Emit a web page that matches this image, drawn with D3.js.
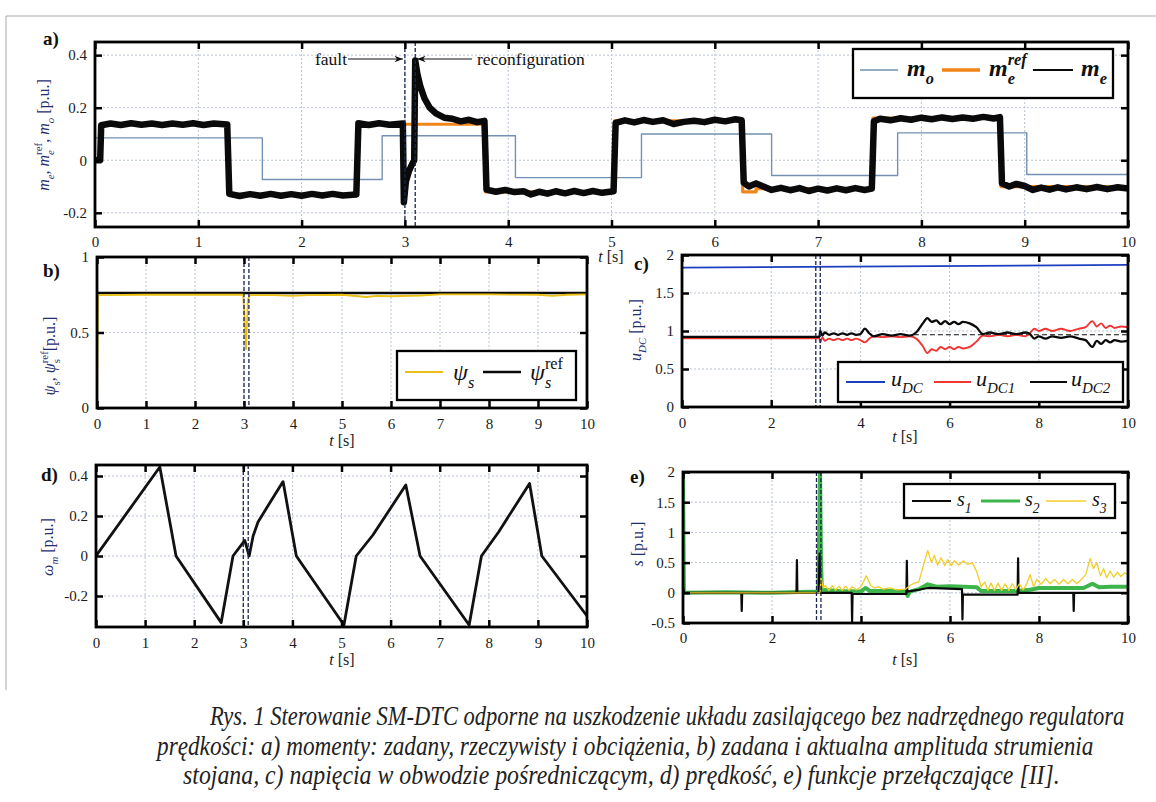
<!DOCTYPE html>
<html><head><meta charset="utf-8">
<script src="https://cdn.jsdelivr.net/npm/d3@7"></script>
<style>
body{margin:0;background:#fff}
svg{display:block}
text{font-family:"Liberation Serif","Times New Roman",serif;white-space:pre}
</style>
</head><body>
<svg id="fig" width="1156" height="802"></svg>
<script>
// ---------------- DATA ----------------
// panel a: torques
const moData   = [[0,0.085],[1.62,-0.073],[2.78,0.093],[4.07,-0.066],[5.29,0.1],[6.55,-0.058],[7.77,0.104],[9.02,-0.054],[10,-0.054]];
const meRefData= [[0,0],[0.05,0.137],[1.29,-0.13],[2.54,0.137],[3.78,-0.12],[5.03,0.15],[6.27,-0.12],[6.4,-0.108],[7.53,0.16],[8.77,-0.1],[10,-0.1]];
const meData   = [[0,0],[0.05,0],[0.06,0.133],[0.15,0.14],[0.25,0.134],[0.35,0.141],[0.45,0.135],[0.55,0.14],[0.65,0.134],[0.75,0.14],[0.85,0.135],[0.95,0.141],[1.05,0.134],[1.15,0.14],[1.28,0.136],
  [1.3,-0.128],[1.4,-0.136],[1.5,-0.129],[1.6,-0.135],[1.7,-0.128],[1.8,-0.135],[1.9,-0.129],[2.0,-0.135],[2.1,-0.128],[2.2,-0.134],[2.3,-0.128],[2.4,-0.134],[2.53,-0.13],
  [2.55,0.141],[2.65,0.134],[2.75,0.141],[2.85,0.135],[2.98,0.14],
  [2.99,-0.16],[3.01,-0.08],[3.04,-0.04],[3.07,-0.015],[3.09,0.0],[3.1,0.38],[3.12,0.33],[3.15,0.28],[3.19,0.235],[3.24,0.2],
  [3.3,0.178],[3.38,0.162],[3.46,0.158],[3.54,0.148],[3.62,0.154],[3.7,0.145],[3.77,0.15],
  [3.79,-0.112],[3.88,-0.12],[3.97,-0.113],[4.06,-0.121],[4.15,-0.118],[4.22,-0.13],[4.3,-0.12],[4.38,-0.127],[4.46,-0.118],[4.55,-0.126],[4.64,-0.117],[4.73,-0.125],[4.82,-0.117],[4.91,-0.124],[5.02,-0.118],
  [5.04,0.142],[5.13,0.152],[5.22,0.144],[5.31,0.153],[5.4,0.146],[5.5,0.152],[5.6,0.138],[5.7,0.146],[5.8,0.15],[5.9,0.145],[6.0,0.154],[6.1,0.148],[6.2,0.156],[6.26,0.152],
  [6.28,-0.085],[6.33,-0.1],[6.4,-0.088],[6.47,-0.1],[6.55,-0.113],[6.64,-0.105],[6.73,-0.114],[6.82,-0.106],[6.91,-0.117],[7.0,-0.108],[7.09,-0.115],[7.18,-0.107],[7.27,-0.114],[7.36,-0.106],[7.45,-0.113],[7.52,-0.108],
  [7.54,0.148],[7.6,0.158],[7.7,0.152],[7.8,0.16],[7.9,0.154],[8.0,0.162],[8.1,0.156],[8.2,0.163],[8.3,0.157],[8.4,0.163],[8.5,0.158],[8.6,0.165],[8.7,0.159],[8.76,0.164],
  [8.78,-0.088],[8.85,-0.1],[8.92,-0.09],[9.0,-0.098],[9.08,-0.113],[9.16,-0.104],[9.24,-0.112],[9.32,-0.103],[9.4,-0.111],[9.5,-0.103],[9.6,-0.11],[9.7,-0.102],[9.8,-0.11],[9.9,-0.103],[10,-0.108]];
// panel b: stator flux
const psiData    = [[0,0],[0.02,0.748],[1,0.75],[2,0.75],[2.98,0.75],[3.01,0.62],[3.04,0.39],[3.06,0.55],[3.08,0.72],[3.12,0.748],[3.6,0.747],[4,0.742],[4.3,0.748],[5,0.75],[5.5,0.735],[5.7,0.742],[6,0.74],[6.6,0.745],[7,0.752],[8,0.752],[9,0.75],[9.3,0.742],[9.6,0.75],[10,0.752]];
const psiRefData = [[0,0.762],[10,0.762]];
// panel c: DC-link voltages
const udcData  = [[0,1.835],[10,1.87]];
const udc1Data = [[0,0.905],[3.08,0.905],[3.1,0.85],[3.15,0.92],[3.2,0.87],[3.3,0.9],[3.4,0.88],[3.5,0.9],[3.6,0.88],[3.7,0.9],[3.8,0.88],[3.9,0.9],[4.0,0.88],[4.1,0.85],[4.2,0.9],[4.3,0.93],[4.5,0.92],[4.7,0.93],[4.9,0.92],[5.1,0.93],[5.25,0.9],[5.4,0.8],[5.5,0.71],[5.6,0.76],[5.7,0.74],[5.8,0.79],[5.9,0.76],[6.0,0.79],[6.1,0.76],[6.2,0.79],[6.3,0.77],[6.45,0.79],[6.6,0.86],[6.75,0.94],[6.9,0.93],[7.1,0.95],[7.3,0.93],[7.5,0.95],[7.7,0.93],[7.8,0.97],[7.9,1.03],[8.0,1.0],[8.15,1.03],[8.3,1.0],[8.5,1.03],[8.7,1.0],[8.9,1.03],[9.05,1.05],[9.2,1.13],[9.3,1.06],[9.4,1.1],[9.5,1.04],[9.6,1.07],[9.7,1.04],[9.85,1.06],[10,1.05]];
const udc2Data = [[0,0.922],[3.08,0.922],[3.1,1.0],[3.15,0.94],[3.2,0.98],[3.3,0.95],[3.4,0.97],[3.5,0.95],[3.6,0.97],[3.7,0.95],[3.8,0.97],[3.9,0.95],[4.0,0.96],[4.1,1.03],[4.2,0.97],[4.3,0.93],[4.5,0.96],[4.7,0.94],[4.9,0.96],[5.1,0.94],[5.25,0.98],[5.4,1.1],[5.5,1.17],[5.6,1.12],[5.7,1.14],[5.8,1.09],[5.9,1.13],[6.0,1.09],[6.1,1.12],[6.2,1.09],[6.3,1.12],[6.45,1.1],[6.6,1.05],[6.75,0.96],[6.9,0.98],[7.1,0.96],[7.3,0.98],[7.5,0.96],[7.7,0.98],[7.8,0.96],[7.9,0.9],[8.0,0.93],[8.15,0.9],[8.3,0.93],[8.5,0.91],[8.7,0.93],[8.9,0.9],[9.05,0.88],[9.2,0.79],[9.3,0.87],[9.4,0.83],[9.5,0.88],[9.6,0.85],[9.7,0.88],[9.85,0.86],[10,0.87]];
const udcHalfData = [[5.2,0.95],[10,0.95]];
// panel d: speed
const omegaData = [[0,0],[1.3,0.445],[1.63,0],[2.55,-0.333],[2.79,0],[3.03,0.078],[3.12,0],[3.2,0.1],[3.3,0.17],[3.5,0.25],[3.81,0.372],[4.08,0],[5.05,-0.345],[5.3,0],[5.64,0.105],[6.31,0.355],[6.6,0],[7.6,-0.345],[7.85,0],[8.2,0.12],[8.83,0.363],[9.08,0],[10,-0.3]];
// panel e: switching functions
const s1Data = [[0,0.1],[0.02,0],[1.31,0],[1.32,-0.3],[1.33,0],[2.55,0],[2.56,0.54],[2.57,0],[3.05,0],[3.07,0.65],[3.09,0],[3.79,0],[3.8,-0.47],[3.81,-0.02],[5.02,-0.02],[5.03,0.53],[5.04,0.02],[5.3,0.05],[5.5,0.08],[6.27,0.06],[6.28,-0.44],[6.29,-0.03],[7.52,-0.03],[7.53,0.57],[7.54,0.0],[8.77,0.0],[8.78,-0.3],[8.79,0.0],[10,0.0]];
const s2Data = [[0,2.0],[0.02,0.0],[1,0.01],[2,0.0],[3.04,0.02],[3.06,1.0],[3.08,2.0],[3.1,0.6],[3.12,0.05],[3.5,0.03],[4.0,0.02],[4.1,0.08],[4.2,0.03],[5.0,0.03],[5.05,-0.05],[5.1,0.02],[5.3,0.06],[5.5,0.14],[5.7,0.1],[6.0,0.11],[6.3,0.1],[6.6,0.09],[6.7,0.03],[7.5,0.03],[7.8,0.05],[8.0,0.08],[8.5,0.08],[9.0,0.08],[9.2,0.15],[9.35,0.09],[9.6,0.1],[10,0.1]];
const s3Data = [[0,0],[3.08,0],[3.1,0.25],[3.15,0.08],[3.2,0.12],[3.28,0.04],[3.35,0.12],[3.43,0.04],[3.5,0.11],[3.58,0.04],[3.65,0.11],[3.73,0.04],[3.8,0.1],[3.9,0.05],[4.0,0.1],[4.12,0.28],[4.22,0.12],[4.3,0.08],[4.4,0.1],[4.5,0.06],[4.65,0.08],[4.8,0.05],[5.0,0.06],[5.1,0.12],[5.2,0.16],[5.3,0.18],[5.4,0.45],[5.5,0.7],[5.58,0.5],[5.65,0.62],[5.72,0.46],[5.8,0.58],[5.88,0.45],[5.95,0.55],[6.03,0.45],[6.1,0.53],[6.2,0.46],[6.3,0.53],[6.4,0.47],[6.5,0.5],[6.6,0.35],[6.7,0.1],[6.78,0.18],[6.85,0.04],[6.92,0.16],[7.0,0.04],[7.08,0.16],[7.16,0.04],[7.24,0.15],[7.32,0.04],[7.4,0.15],[7.48,0.05],[7.56,0.15],[7.64,0.05],[7.72,0.14],[7.8,0.3],[7.88,0.1],[7.95,0.22],[8.05,0.14],[8.15,0.24],[8.25,0.15],[8.35,0.22],[8.45,0.14],[8.55,0.22],[8.65,0.15],[8.75,0.22],[8.85,0.15],[8.95,0.22],[9.05,0.3],[9.15,0.57],[9.22,0.4],[9.3,0.5],[9.38,0.28],[9.45,0.4],[9.52,0.25],[9.6,0.36],[9.68,0.26],[9.76,0.34],[9.84,0.27],[9.92,0.33],[10,0.3]];
// event markers (fault, reconfiguration)
const eventTimes = [3.0, 3.1];
// ticks
const ticksT1 = [0,1,2,3,4,5,6,7,8,9,10];
const ticksT2 = [0,2,4,6,8,10];
const ticksA = [-0.2,0,0.2,0.4];
const ticksB = [0,0.5,1];
const ticksC = [0,0.5,1,1.5,2];
const ticksD = [-0.2,0,0.2,0.4];
const ticksE = [-0.5,0,0.5,1,1.5,2];
const captionLines = [
  "Rys. 1 Sterowanie SM-DTC odporne na uszkodzenie układu zasilającego bez nadrzędnego regulatora",
  "prędkości: a) momenty: zadany, rzeczywisty i obciążenia, b) zadana i aktualna amplituda strumienia",
  "stojana, c) napięcia w obwodzie pośredniczącym, d) prędkość, e) funkcje przełączające [II]."
];

// ---------------- DRAWING ----------------
const svg = d3.select('#fig');
svg.append('rect').attr('width',1156).attr('height',802).attr('fill','#fff');
svg.append('line').attr('x1',6).attr('x2',1156).attr('y1',16).attr('y2',16).attr('stroke','#aaa').attr('stroke-width',1);
svg.append('line').attr('x1',6).attr('x2',6).attr('y1',16).attr('y2',690).attr('stroke','#aaa').attr('stroke-width',1);

const LABC = '#1d2f6f';
let clipId = 0;
function panel(c){
  const x = d3.scaleLinear().domain([0,10]).range([c.l,c.r]);
  const y = d3.scaleLinear().domain(c.yd).range([c.b,c.t]);
  const g = svg.append('g');
  g.selectAll(null).data(c.xt).join('line')
    .attr('x1',d=>x(d)).attr('x2',d=>x(d)).attr('y1',c.t).attr('y2',c.b)
    .attr('stroke','#b9c3d3').attr('stroke-width',1).attr('stroke-dasharray','2,2');
  g.selectAll(null).data(c.yt).join('line')
    .attr('y1',d=>y(d)).attr('y2',d=>y(d)).attr('x1',c.l).attr('x2',c.r)
    .attr('stroke','#b9c3d3').attr('stroke-width',1).attr('stroke-dasharray','2,2');
  const id = 'clip'+(clipId++);
  svg.append('clipPath').attr('id',id).append('rect').attr('x',c.l).attr('y',c.t).attr('width',c.r-c.l).attr('height',c.b-c.t);
  const data = svg.append('g').attr('clip-path',`url(#${id})`);
  return {x,y,g,data,c};
}
function finish(p, padX, padY){
  const {x,y,c} = p;
  const g = svg.append('g');
  const style = s => {
    s.select('.domain').remove();
    s.selectAll('.tick line').attr('stroke','#000').attr('stroke-width',2.5);
    s.selectAll('.tick text').attr('fill','#1a1a1a');
    s.attr('font-family','Liberation Serif, serif').attr('font-size',15);
  };
  g.append('g').attr('transform',`translate(0,${c.b})`)
    .call(d3.axisBottom(x).tickValues(c.xt).tickSize(-7).tickPadding(padX).tickFormat(d=>String(d))).call(style);
  g.append('g').attr('transform',`translate(0,${c.t})`)
    .call(d3.axisTop(x).tickValues(c.xt).tickSize(-7).tickFormat('')).call(style);
  g.append('g').attr('transform',`translate(${c.l},0)`)
    .call(d3.axisLeft(y).tickValues(c.yt).tickSize(-7).tickPadding(padY).tickFormat(d=>String(d))).call(style);
  g.append('g').attr('transform',`translate(${c.r},0)`)
    .call(d3.axisRight(y).tickValues(c.yt).tickSize(-7).tickFormat('')).call(style);
  g.append('rect').attr('x',c.l).attr('y',c.t).attr('width',c.r-c.l).attr('height',c.b-c.t)
    .attr('fill','none').attr('stroke','#000').attr('stroke-width',2.8);
}
function series(p, d, color, w, curve, dash){
  const line = d3.line().x(v=>p.x(v[0])).y(v=>p.y(v[1])).curve(curve||d3.curveLinear);
  const el = p.data.append('path').datum(d).attr('d',line).attr('fill','none')
    .attr('stroke',color).attr('stroke-width',w).attr('stroke-linejoin','round');
  if(dash) el.attr('stroke-dasharray',dash);
  return el;
}
function events(p){
  p.data.selectAll(null).data(eventTimes).join('line')
    .attr('x1',d=>p.x(d)).attr('x2',d=>p.x(d)).attr('y1',p.c.t).attr('y2',p.c.b)
    .attr('stroke','#1b2550').attr('stroke-width',1.3).attr('stroke-dasharray','4,2');
}
function mathText(parent, tokens, size, color){
  const g = parent.append('g');
  let cx = 0, subStart = 0;
  tokens.forEach(tk=>{
    let fs = size, dy = 0, xpos = cx;
    if(tk.sub){ fs = size*0.68; dy = size*0.33; subStart = cx; }
    if(tk.sup){ fs = size*0.68; dy = -size*0.45; if(tk.stack) xpos = subStart; }
    const t = g.append('text').attr('x',xpos).attr('y',dy).attr('font-size',fs)
      .attr('fill',color).attr('font-style',tk.it?'italic':'normal').text(tk.s.replace(/ /g,'\u00A0'));
    if(tk.bold) t.attr('font-weight','bold');
    const w = t.node().getComputedTextLength();
    if(tk.sup && tk.stack) cx = Math.max(cx, xpos+w); else cx = xpos + w;
  });
  return {g, width:cx};
}
function yLabel(tokens, cx, cy, size){
  const m = mathText(svg, tokens, size||16, LABC);
  m.g.attr('transform',`translate(${cx+5},${cy}) rotate(-90) translate(${-m.width/2},0)`);
}
function tLabel(cx, cy){
  const m = mathText(svg, [{s:'t',it:true},{s:' [s]'}], 16, '#1a1a1a');
  m.g.attr('transform',`translate(${cx-m.width/2},${cy})`);
}
function panelTag(s, x, y){
  svg.append('text').attr('x',x).attr('y',y).attr('font-size',19).attr('font-weight','bold').attr('fill','#111').text(s);
}
function legendBox(x,y,w,h){
  svg.append('rect').attr('x',x).attr('y',y).attr('width',w).attr('height',h)
    .attr('fill','#fff').attr('stroke','#000').attr('stroke-width',2.3);
}
function legLine(x1,x2,y,color,w){
  svg.append('line').attr('x1',x1).attr('x2',x2).attr('y1',y).attr('y2',y).attr('stroke',color).attr('stroke-width',w);
}
function legText(tokens, x, y, size){
  const m = mathText(svg, tokens, size, '#111');
  m.g.attr('transform',`translate(${x},${y})`);
}

// ---- Panel a ----
const pa = panel({l:95,r:1128,t:42,b:227,yd:[-0.254,0.45],xt:ticksT1,yt:ticksA});
series(pa, moData, '#7391b3', 1.4, d3.curveStepAfter);
series(pa, meRefData, '#f08519', 3.2, d3.curveStepAfter);
series(pa, meData, '#0a0a0a', 6.5);
events(pa);
finish(pa, 9, 8);
panelTag('a)', 43, 45);
yLabel([{s:'m',it:true},{s:'e',it:true,sub:true},{s:', '},{s:'m',it:true},{s:'e',it:true,sub:true},{s:'ref',sup:true,stack:true},{s:', '},{s:'m',it:true},{s:'o',it:true,sub:true},{s:' [p.u.]'}], 44, 135);
tLabel(611, 262);
svg.append('defs').html('<marker id="ah" viewBox="0 0 10 10" refX="10" refY="5" markerWidth="9" markerHeight="7" orient="auto-start-reverse"><path d="M0,1 L10,5 L0,9 L3,5 Z" fill="#111"/></marker>');
svg.append('line').attr('x1',348).attr('x2',pa.x(eventTimes[0])-2).attr('y1',59).attr('y2',59).attr('stroke','#111').attr('stroke-width',1.2).attr('marker-end','url(#ah)');
svg.append('text').attr('x',347).attr('y',65).attr('text-anchor','end').attr('font-size',17.5).attr('fill','#111').text('fault');
svg.append('line').attr('x1',472).attr('x2',pa.x(eventTimes[1])+2).attr('y1',59).attr('y2',59).attr('stroke','#111').attr('stroke-width',1.2).attr('marker-end','url(#ah)');
svg.append('text').attr('x',477).attr('y',65).attr('font-size',17.5).attr('fill','#111').text('reconfiguration');
legendBox(853,49,260,49);
legLine(860,898,70,'#7391b3',1.4);
legText([{s:'m',it:true,bold:true},{s:'o',it:true,sub:true,bold:true}], 907, 76, 24);
legLine(942,980,70,'#f08519',3.5);
legText([{s:'m',it:true,bold:true},{s:'e',it:true,sub:true,bold:true},{s:'ref',it:true,sup:true,stack:true,bold:true}], 989, 76, 24);
legLine(1033,1073,70,'#0a0a0a',2.2);
legText([{s:'m',it:true,bold:true},{s:'e',it:true,sub:true,bold:true}], 1081, 76, 24);

// ---- Panel b ----
const pb = panel({l:97,r:587,t:257,b:408,yd:[0,1],xt:ticksT1,yt:ticksB});
series(pb, psiRefData, '#0a0a0a', 2.6);
series(pb, psiData, '#e9bf16', 1.8);
events(pb);
finish(pb, 10, 8);
panelTag('b)', 43, 277);
yLabel([{s:'ψ',it:true},{s:'s',sub:true},{s:', '},{s:'ψ',it:true},{s:'s',sub:true},{s:'ref',sup:true,stack:true},{s:'[p.u.]'}], 50, 356);
tLabel(342, 446);
legendBox(397,351,179,49);
legLine(405,443,372,'#e9bf16',1.8);
legText([{s:'ψ',it:true},{s:'s',it:true,sub:true}], 453, 380, 24);
legLine(483,521,372,'#0a0a0a',2.4);
legText([{s:'ψ',it:true},{s:'s',it:true,sub:true},{s:'ref',sup:true,stack:true}], 530, 380, 24);

// ---- Panel c ----
const pc = panel({l:682,r:1128,t:255,b:407,yd:[0,2],xt:ticksT2,yt:ticksC});
series(pc, udcData, '#1c3fc0', 1.8);
series(pc, udcHalfData, '#111', 1.1, null, '5,3');
series(pc, udc1Data, '#f03535', 1.9, d3.curveMonotoneX);
series(pc, udc2Data, '#0a0a0a', 2.3, d3.curveMonotoneX);
events(pc);
finish(pc, 10, 8);
panelTag('c)', 634, 270);
yLabel([{s:'u',it:true},{s:'DC',it:true,sub:true},{s:' [p.u.]'}], 636, 330);
tLabel(905, 442);
legendBox(838,362,285,40);
legLine(846,885,382,'#1c3fc0',2);
legText([{s:'u',it:true},{s:'DC',it:true,sub:true}], 891, 386, 22);
legLine(934,971,382,'#f03535',2.2);
legText([{s:'u',it:true},{s:'DC1',it:true,sub:true}], 976, 386, 22);
legLine(1030,1067,382,'#0a0a0a',2.2);
legText([{s:'u',it:true},{s:'DC2',it:true,sub:true}], 1071, 386, 22);

// ---- Panel d ----
const pd = panel({l:96,r:587,t:465,b:627,yd:[-0.355,0.455],xt:ticksT1,yt:ticksD});
series(pd, omegaData, '#111', 2.8);
events(pd);
finish(pd, 10, 8);
panelTag('d)', 41, 481);
yLabel([{s:'ω',it:true},{s:'m',it:true,sub:true},{s:' [p.u.]'}], 48, 547);
tLabel(342, 665);

// ---- Panel e ----
const pe = panel({l:683,r:1128,t:472,b:623,yd:[-0.5,2],xt:ticksT2,yt:ticksE});
series(pe, s2Data, '#3cb54a', 4);
series(pe, s1Data, '#0a0a0a', 2.2);
series(pe, s3Data, '#f0cf2a', 1.3);
events(pe);
finish(pe, 9, 8);
panelTag('e)', 630, 483);
yLabel([{s:'s',it:true},{s:' [p.u.]'}], 638, 544);
tLabel(905, 665);
legendBox(904,484,211,34);
legLine(912,951,501,'#0a0a0a',2.2);
legText([{s:'s',it:true},{s:'1',it:true,sub:true}], 957, 506, 20);
legLine(981,1020,501,'#3cb54a',3);
legText([{s:'s',it:true},{s:'2',it:true,sub:true}], 1025, 506, 20);
legLine(1046,1086,501,'#f0cf2a',1.5);
legText([{s:'s',it:true},{s:'3',it:true,sub:true}], 1092, 506, 20);

// ---- caption (condensed italic serif: fit natural width, then stretch vertically) ----
const capX = [[210,1125],[157,1094],[183,1060]];
const capY = [725, 755, 784];
captionLines.forEach((s,i)=>{
  const target = capX[i][1]-capX[i][0];
  const g = svg.append('g');
  const t = g.append('text').attr('x',0).attr('y',0).attr('font-size',22)
    .attr('font-style','italic').attr('fill','#222').text(s);
  const w = t.node().getComputedTextLength();
  const fs = 22*target/w;
  t.attr('font-size',fs);
  const vs = 27/fs;
  g.attr('transform',`translate(${capX[i][0]},${capY[i]}) scale(1,${vs})`);
});
</script>
</body></html>
